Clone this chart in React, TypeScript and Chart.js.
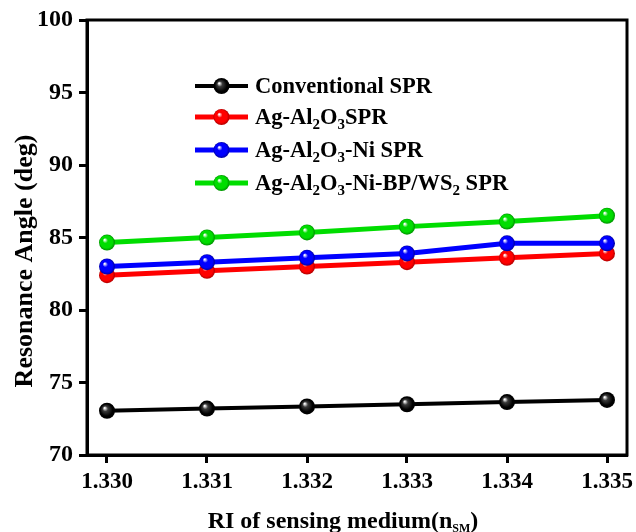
import React, { useEffect, useRef } from 'react';
import { Chart, registerables } from 'chart.js';

Chart.register(...registerables);

// ---- data ----
const riValues = [1.330, 1.331, 1.332, 1.333, 1.334, 1.335];
const conventionalSPR = [73.05, 73.2, 73.35, 73.5, 73.65, 73.8];
const agAl2O3SPR = [82.4, 82.7, 83.0, 83.3, 83.6, 83.9];
const agAl2O3NiSPR = [83.0, 83.3, 83.6, 83.9, 84.6, 84.6];
const agAl2O3NiBPWS2SPR = [84.65, 85.0, 85.35, 85.75, 86.1, 86.5];
const xTickValues = [1.330, 1.331, 1.332, 1.333, 1.334, 1.335];
const yTickValues = [70, 75, 80, 85, 90, 95, 100];

// legend labels: [text, isSubscript]
const seriesLabels: [string, boolean][][] = [
  [['Conventional SPR', false]],
  [['Ag-Al', false], ['2', true], ['O', false], ['3', true], ['SPR', false]],
  [['Ag-Al', false], ['2', true], ['O', false], ['3', true], ['-Ni SPR', false]],
  [['Ag-Al', false], ['2', true], ['O', false], ['3', true], ['-Ni-BP/WS', false], ['2', true], [' SPR', false]],
];
const seriesValues = [conventionalSPR, agAl2O3SPR, agAl2O3NiSPR, agAl2O3NiBPWS2SPR];
const seriesColors = ['#000000', '#ff0000', '#0000ff', '#00dd00'];
const seriesDark = ['#000000', '#b00000', '#0000a0', '#009000'];
const seriesMid = ['#3a3a3a', '#ff0000', '#0000ff', '#00dd00'];
const xTitle: [string, boolean][] = [['RI of sensing medium(n', false], ['SM', true], [')', false]];
const yTitle = 'Resonance Angle (deg)';

const FONT = '"Liberation Serif", "Times New Roman", serif';

function drawBall(ctx: CanvasRenderingContext2D, x: number, y: number, r: number, i: number) {
  const g = ctx.createRadialGradient(x - r * 0.3, y - r * 0.35, r * 0.05, x, y, r);
  g.addColorStop(0, '#ffffff');
  g.addColorStop(0.3, seriesMid[i]);
  g.addColorStop(0.75, seriesColors[i]);
  g.addColorStop(1, seriesDark[i]);
  ctx.beginPath();
  ctx.arc(x, y, r, 0, Math.PI * 2);
  ctx.fillStyle = g;
  ctx.fill();
}

function drawRich(ctx: CanvasRenderingContext2D, parts: [string, boolean][], x: number, baseline: number, size: number, subSize: number, subDrop: number, align: 'left' | 'center') {
  const mainFont = `bold ${size}px ${FONT}`;
  const subFont = `bold ${subSize}px ${FONT}`;
  let total = 0;
  for (const [t, s] of parts) {
    ctx.font = s ? subFont : mainFont;
    total += ctx.measureText(t).width;
  }
  let cx = align === 'center' ? x - total / 2 : x;
  ctx.textAlign = 'left';
  ctx.textBaseline = 'alphabetic';
  ctx.fillStyle = '#000';
  for (const [t, s] of parts) {
    ctx.font = s ? subFont : mainFont;
    ctx.fillText(t, cx, s ? baseline + subDrop : baseline);
    cx += ctx.measureText(t).width;
  }
}

const decorPlugin = {
  id: 'decor',
  afterDatasetsDraw(chart: any) {
    const ctx: CanvasRenderingContext2D = chart.ctx;
    ctx.save();
    chart.data.datasets.forEach((_: any, i: number) => {
      const meta = chart.getDatasetMeta(i);
      meta.data.forEach((pt: any) => drawBall(ctx, pt.x, pt.y, 8, i));
    });
    ctx.restore();
  },
  afterDraw(chart: any) {
    const ctx: CanvasRenderingContext2D = chart.ctx;
    const a = chart.chartArea;
    ctx.save();
    // frame
    ctx.strokeStyle = '#000';
    ctx.lineWidth = 3;
    ctx.strokeRect(a.left, a.top, a.right - a.left, a.bottom - a.top);
    // legend
    const lx0 = 195, lx1 = 248, tx = 255;
    const rows = [86, 117, 150, 183];
    seriesLabels.forEach((parts, i) => {
      const y = rows[i];
      ctx.strokeStyle = seriesColors[i];
      ctx.lineWidth = i === 0 ? 4 : 5;
      ctx.beginPath();
      ctx.moveTo(lx0, y);
      ctx.lineTo(lx1, y);
      ctx.stroke();
      drawBall(ctx, (lx0 + lx1) / 2, y, 8, i);
      drawRich(ctx, parts, tx, y + 7, 22.5, 15, 5, 'left');
    });
    // x title
    drawRich(ctx, xTitle, 343, 528, 24, 12, 4, 'center');
    // y title
    ctx.translate(25, 261);
    ctx.rotate(-Math.PI / 2);
    ctx.font = `bold 26px ${FONT}`;
    ctx.fillStyle = '#000';
    ctx.textAlign = 'center';
    ctx.textBaseline = 'middle';
    ctx.fillText(yTitle, 0, 0);
    ctx.restore();
  },
};

export default function App() {
  const ref = useRef<HTMLCanvasElement | null>(null);
  useEffect(() => {
    if (!ref.current) return;
    const chart = new Chart(ref.current, {
      type: 'line',
      data: {
        datasets: seriesValues.map((vals, i) => ({
          label: seriesLabels[i].map((p) => p[0]).join(''),
          data: riValues.map((x, j) => ({ x, y: vals[j] })),
          borderColor: seriesColors[i],
          borderWidth: i === 0 ? 4 : 5,
          pointRadius: 0,
          tension: 0,
          fill: false,
        })),
      },
      options: {
        animation: false,
        responsive: false,
        layout: { padding: { left: 0, top: 20, right: 9, bottom: 0 } },
        plugins: { legend: { display: false }, tooltip: { enabled: false } },
        scales: {
          x: {
            type: 'linear',
            min: 1.3298,
            max: 1.3352,
            afterBuildTicks: (s: any) => {
              s.ticks = xTickValues.map((v) => ({ value: v }));
            },
            afterFit: (s: any) => {
              s.height = 77;
              s.paddingLeft = 0;
              s.paddingRight = 0;
            },
            ticks: {
              autoSkip: false,
              maxRotation: 0,
              padding: 5,
              color: '#000',
              font: { family: FONT, size: 23, weight: 'bold' },
              callback: (v: any) => Number(v).toFixed(3),
            },
            grid: { drawOnChartArea: false, drawTicks: true, tickLength: 8, tickWidth: 3, tickColor: '#000', color: '#000' },
            border: { display: true, width: 3, color: '#000' },
          },
          y: {
            type: 'linear',
            min: 70,
            max: 100,
            afterBuildTicks: (s: any) => {
              s.ticks = yTickValues.map((v) => ({ value: v }));
            },
            afterFit: (s: any) => {
              s.width = 87;
              s.paddingTop = 0;
              s.paddingBottom = 0;
            },
            ticks: {
              padding: 6,
              color: '#000',
              font: { family: FONT, size: 24, weight: 'bold' },
            },
            grid: { drawOnChartArea: false, drawTicks: true, tickLength: 8, tickWidth: 3, tickColor: '#000', color: '#000' },
            border: { display: true, width: 3, color: '#000' },
          },
        },
      } as any,
      plugins: [decorPlugin],
    });
    return () => chart.destroy();
  }, []);
  return (
    <div style={{ position: 'fixed', left: 0, top: 0, width: 636, height: 532, background: '#fff' }}>
      <canvas ref={ref} width={636} height={532} style={{ width: 636, height: 532, display: 'block' }} />
    </div>
  );
}
